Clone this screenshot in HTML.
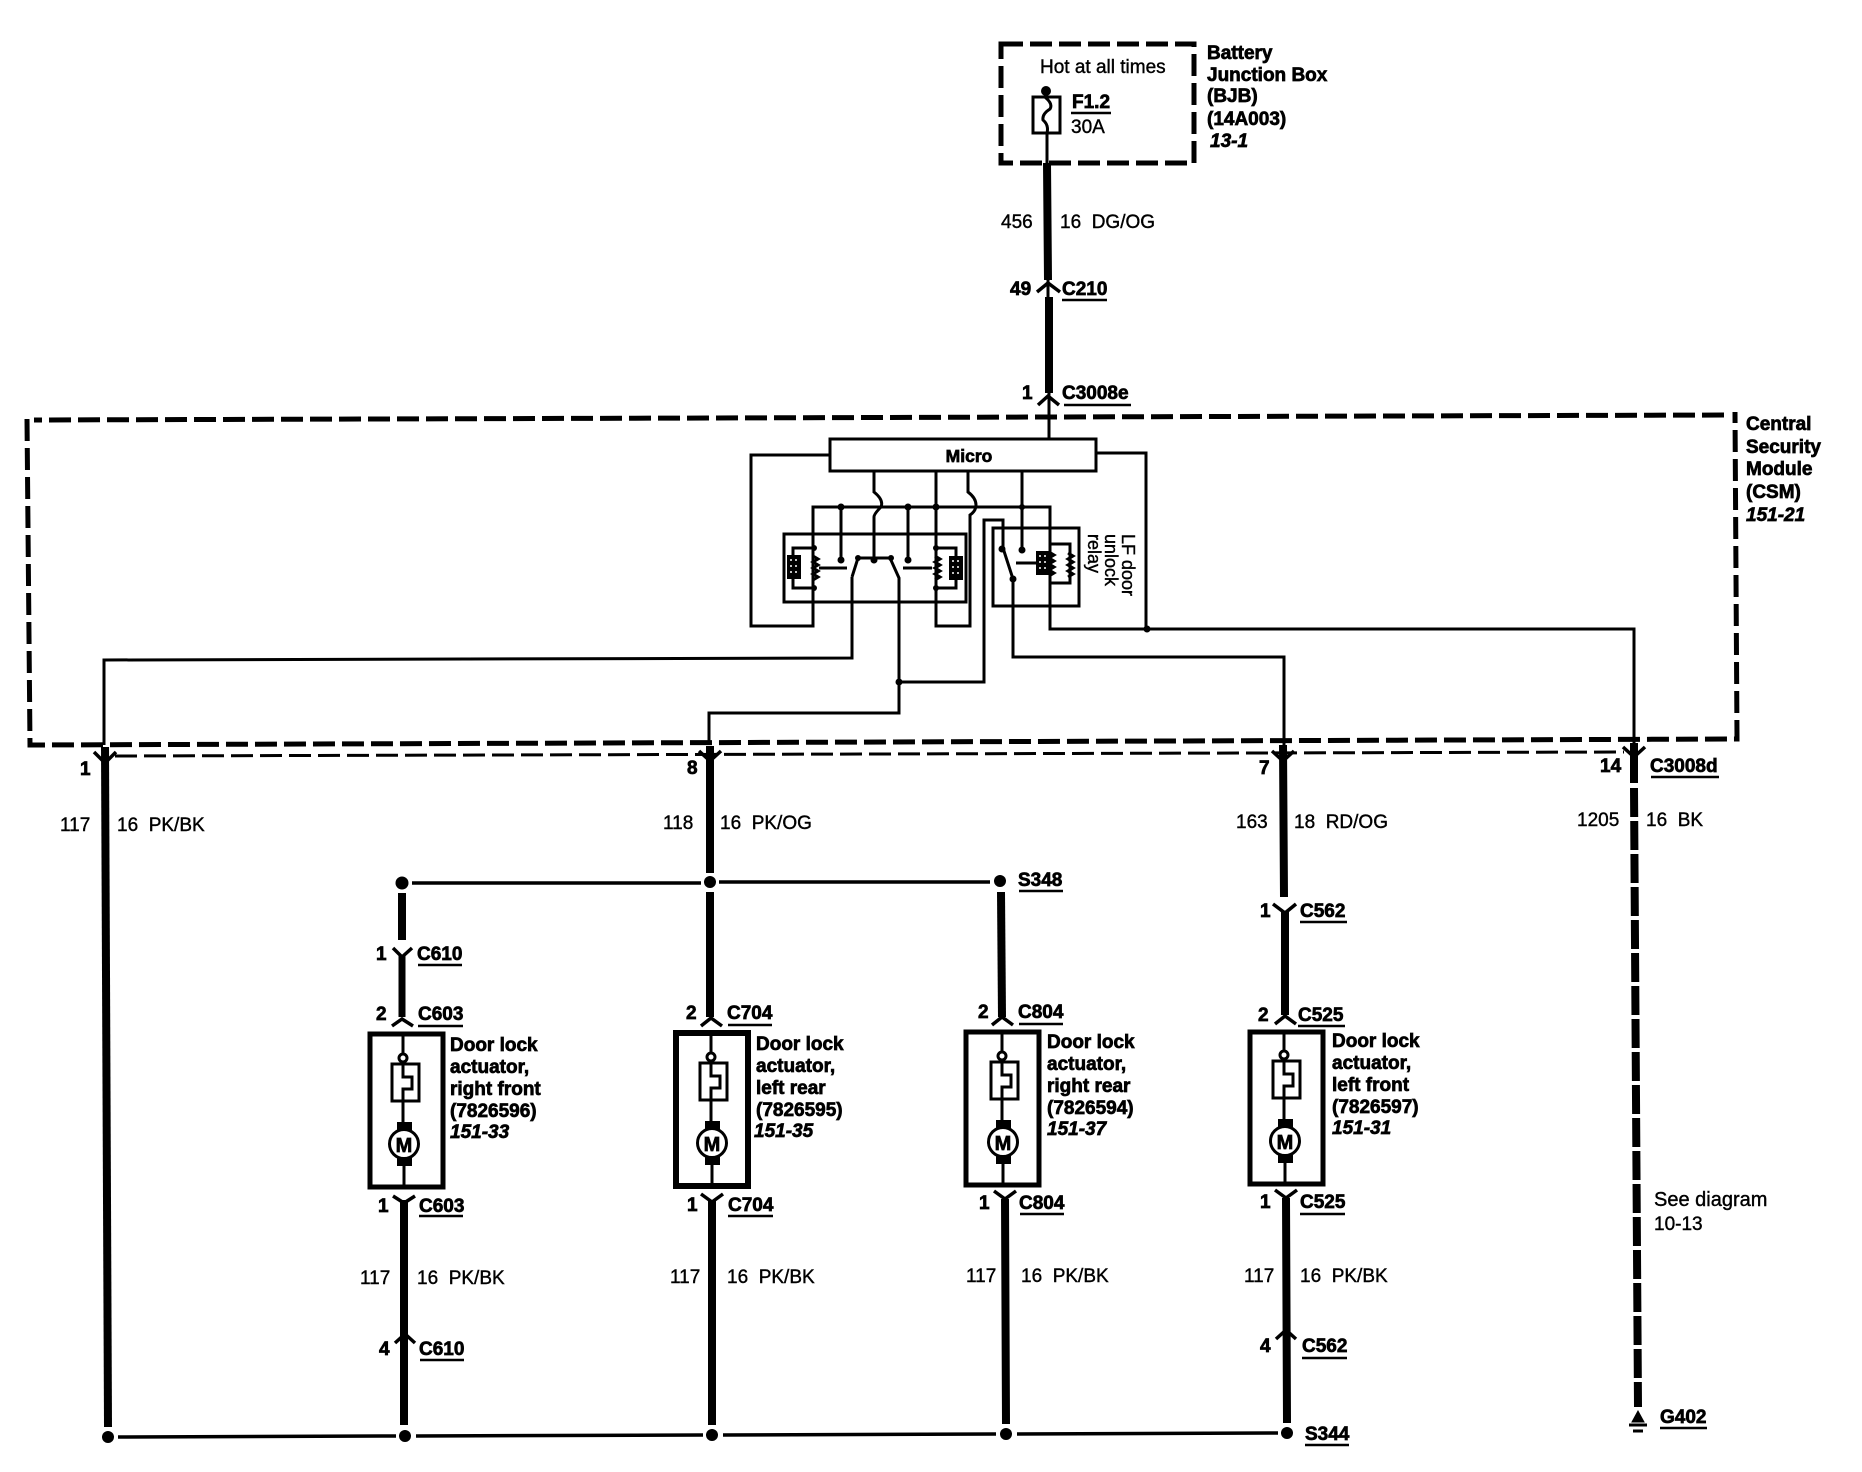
<!DOCTYPE html>
<html><head><meta charset="utf-8"><title>Door lock diagram</title>
<style>
html,body{margin:0;padding:0;background:#fff}
svg{display:block}
text{font-family:"Liberation Sans",sans-serif;font-size:19px;fill:#000;white-space:pre;stroke:#000;stroke-width:.4px}
.b{font-weight:bold;stroke-width:.7px}
.i{font-weight:bold;font-style:italic;stroke-width:.7px}
.t{stroke:#000;stroke-width:3;fill:none}
.k{stroke:#000;stroke-width:8;fill:none}
.c{stroke:#000;stroke-width:3.5;fill:none}
.u{stroke:#000;stroke-width:2.5}
</style></head><body>
<svg width="1862" height="1472" viewBox="0 0 1862 1472" xmlns="http://www.w3.org/2000/svg">
<defs>
<g id="act">
<circle cx="0" cy="-6" r="4" fill="#fff" stroke="#000" stroke-width="3"/>
<rect x="-11" y="0" width="27" height="37" fill="#fff" stroke="#000" stroke-width="3"/>
<path class="t" d="M0,-30V-9M0,0V13H9V25H0V58M1,102V125"/>
<rect x="-6" y="58" width="15" height="10" fill="#000"/>
<circle cx="1" cy="80" r="14.5" fill="#fff" stroke="#000" stroke-width="3"/>
<rect x="-6" y="94" width="15" height="8" fill="#000"/>
</g>
<g id="blob"><rect x="-7" y="-12" width="14" height="24" fill="#000"/><path d="M-4,-7h2m3,0h2M-4,-1h2m3,0h2M-4,5h2m3,0h2" stroke="#fff" stroke-width="1.5"/></g>
<path id="coil" d="M0,-11l5,3l-5,3l5,3l-5,3l5,3l-5,3l5,3l-5,3" fill="none" stroke="#000" stroke-width="3"/>
</defs>
<rect width="1862" height="1472" fill="#fff"/>

<!-- BJB -->
<rect x="1001" y="44" width="193" height="119" fill="none" stroke="#000" stroke-width="5" stroke-dasharray="22 7"/>
<text x="1040" y="73">Hot at all times</text>
<circle cx="1046" cy="91" r="5" fill="#000"/>
<rect x="1033" y="97" width="27" height="36" fill="#fff" stroke="#000" stroke-width="3"/>
<path class="t" d="M1046,91V98Q1053,104 1050,109Q1042,114 1043,120Q1049,125 1047,133V165"/>
<text class="b" x="1072" y="108">F1.2</text>
<line class="u" x1="1071" y1="113" x2="1111" y2="113"/>
<text x="1071" y="133">30A</text>
<text class="b" x="1207" y="59">Battery</text>
<text class="b" x="1207" y="81">Junction Box</text>
<text class="b" x="1207" y="102">(BJB)</text>
<text class="b" x="1207" y="125">(14A003)</text>
<text class="i" x="1210" y="147">13-1</text>

<path class="k" d="M1047,163L1048,280M1049,297L1049,393"/>
<path class="t" d="M1048,280V297M1049,393V438"/>
<path class="c" d="M1037,292L1048,283L1060,292M1038,405L1048,396L1059,405"/>
<text x="1001" y="228">456</text>
<text x="1060" y="228">16  DG/OG</text>
<text class="b" x="1010" y="295">49</text>
<text class="b" x="1062" y="295">C210</text>
<line class="u" x1="1062" y1="300" x2="1107" y2="300"/>
<text class="b" x="1022" y="399">1</text>
<text class="b" x="1062" y="399">C3008e</text>
<line class="u" x1="1064" y1="405" x2="1131" y2="405"/>

<!-- CSM -->
<path d="M1724,415L34,420" fill="none" stroke="#000" stroke-width="5" stroke-dasharray="22 7"/>
<path d="M27,419L30,745L1737,739L1735,412" fill="none" stroke="#000" stroke-width="5" stroke-dasharray="22 7"/>
<path d="M115,756L1624,752" fill="none" stroke="#000" stroke-width="3" stroke-dasharray="22 7"/>
<text class="b" x="1746" y="430">Central</text>
<text class="b" x="1746" y="453">Security</text>
<text class="b" x="1746" y="475">Module</text>
<text class="b" x="1746" y="498">(CSM)</text>
<text class="i" x="1746" y="521">151-21</text>

<!-- Micro and inner circuit -->
<rect x="830" y="439" width="266" height="32" fill="#fff" stroke="#000" stroke-width="3"/>
<text class="b" x="969" y="462" text-anchor="middle" style="font-size:17.5px">Micro</text>
<path class="t" d="M829,455H751V626H813V507H1050V629H1147M1096,453H1146V629"/>
<path class="t" d="M1147,629H1634V745"/>
<rect x="784" y="534" width="182" height="68" fill="none" stroke="#000" stroke-width="3"/>
<rect x="993" y="528" width="86" height="78" fill="none" stroke="#000" stroke-width="3"/>
<circle cx="1147" cy="629" r="3.5"/>
<!-- left relay -->
<path class="t" d="M814,548H793V588H814"/>
<use href="#blob" x="794" y="567"/>
<use href="#coil" x="813" y="567"/>
<path class="t" d="M841,507V560M908,507V560M819,568H847M903,568H932"/>
<circle cx="841" cy="507" r="3.5"/><circle cx="908" cy="507" r="3.5"/>
<circle cx="841" cy="560" r="3.5"/><circle cx="908" cy="560" r="3.5"/>
<!-- centre -->
<path class="t" d="M874,471V492Q884,500 881,507Q874,514 874,517V560"/>
<path class="t" d="M852,577L858,558H890L899,578V713H709V745"/>
<path class="t" d="M852,577V658L104,660V745"/>
<circle cx="858" cy="558" r="3"/><circle cx="874" cy="560" r="3.5"/><circle cx="891" cy="558" r="3"/><circle cx="899" cy="682" r="3.5"/>
<path class="t" d="M899,682H984V520H1003V548L1013,579V657H1284V745"/>
<circle cx="1002" cy="549" r="3.5"/><circle cx="1013" cy="579" r="3.5"/>
<!-- right part of double relay -->
<path class="t" d="M936,471V626H970V515Q976,511 976,505Q976,498 968,492V471"/>
<path class="t" d="M936,548H956V588H936"/>
<use href="#blob" x="956" y="568"/>
<use href="#coil" x="935" y="567"/>
<circle cx="936" cy="507" r="3.5"/><circle cx="936" cy="548" r="3"/><circle cx="936" cy="588" r="3"/>
<circle cx="814" cy="548" r="3"/><circle cx="814" cy="588" r="3"/>
<!-- LF relay -->
<path class="t" d="M1022,471V550M1016,563H1037"/>
<circle cx="1022" cy="550" r="3.5"/><circle cx="1022" cy="507" r="3"/>
<use href="#blob" x="1043" y="563"/>
<use href="#coil" x="1049" y="563"/>
<path class="t" d="M1050,544H1070V583H1050"/>
<use href="#coil" x="1068" y="564"/>
<text transform="translate(1122,534) rotate(90)" style="font-size:18px">LF door</text>
<text transform="translate(1105,534) rotate(90)" style="font-size:18px">unlock</text>
<text transform="translate(1088,534) rotate(90)" style="font-size:18px">relay</text>

<!-- main thick wires -->
<path class="k" d="M105,747L108,1427"/>
<path class="k" d="M710,746V873M710,892V1017"/>
<path class="k" d="M1283,745L1284,897M1285,912V1015"/>
<path class="k" d="M1001,892L1002,1017"/>
<path class="k" d="M402,893V940"/>
<path class="k" style="stroke-width:7" d="M402,955V1017"/>
<path class="k" d="M404,1200V1425M712,1200V1425M1005,1199L1006,1424M1286,1198L1287,1423"/>
<path d="M1634,743V783" class="k"/>
<path d="M1634,788L1638,1407" class="k" stroke-dasharray="29 4"/>
<!-- actuators -->
<rect x="370" y="1034" width="73" height="153" fill="#fff" stroke="#000" stroke-width="5"/>
<rect x="676" y="1033" width="72" height="153" fill="#fff" stroke="#000" stroke-width="6"/>
<rect x="966" y="1032" width="73" height="153" fill="#fff" stroke="#000" stroke-width="5"/>
<rect x="1250" y="1032" width="73" height="152" fill="#fff" stroke="#000" stroke-width="5"/>
<use href="#act" x="403" y="1064"/>
<use href="#act" x="711" y="1063"/>
<use href="#act" x="1002" y="1062"/>
<use href="#act" x="1284" y="1061"/>
<text class="b" x="404" y="1152" text-anchor="middle" style="font-size:20px">M</text>
<text class="b" x="712" y="1151" text-anchor="middle" style="font-size:20px">M</text>
<text class="b" x="1003" y="1150" text-anchor="middle" style="font-size:20px">M</text>
<text class="b" x="1285" y="1149" text-anchor="middle" style="font-size:20px">M</text>

<!-- chevrons -->
<path class="c" d="M94,752L105,763L116,752M699,751L710,761L721,751M1272,751L1283,761L1294,751M1623,747L1634,757L1645,747"/>
<path class="c" d="M393,948L402,957L412,948M392,1026L402,1019L413,1026M393,1196L404,1203L415,1196"/>
<path class="c" d="M701,1026L711,1018L722,1026M701,1194L712,1202L723,1194"/>
<path class="c" d="M992,1025L1002,1017L1013,1025M994,1191L1005,1199L1016,1191"/>
<path class="c" d="M1273,904L1285,913L1296,904M1275,1024L1285,1016L1296,1024M1275,1190L1286,1198L1297,1190"/>
<path class="c" d="M395,1343L405,1334L415,1343M1276,1339L1286,1330L1296,1339"/>

<!-- S348 bus -->
<path class="c" d="M412,883H701M719,882H990"/>
<circle cx="402" cy="883" r="6.5"/><circle cx="710" cy="882" r="6"/><circle cx="1000" cy="881" r="6"/>
<text class="b" x="1018" y="886">S348</text>
<line class="u" x1="1019" y1="891" x2="1063" y2="891"/>
<!-- S344 bus -->
<path class="c" d="M118,1437L396,1436M416,1436L703,1435M723,1435L996,1434M1017,1434L1278,1433"/>
<circle cx="108" cy="1437" r="6"/><circle cx="405" cy="1436" r="6"/><circle cx="712" cy="1435" r="6"/><circle cx="1006" cy="1434" r="6"/><circle cx="1287" cy="1433" r="6"/>
<text class="b" x="1305" y="1440">S344</text>
<line class="u" x1="1305" y1="1445" x2="1349" y2="1445"/>
<!-- Ground -->
<path d="M1638,1411L1632,1422H1644Z" fill="#000" stroke="#000"/>
<path d="M1629,1425H1647" stroke="#000" stroke-width="3"/>
<path d="M1633,1431H1643" stroke="#000" stroke-width="3"/>
<text class="b" x="1660" y="1423">G402</text>
<line class="u" x1="1660" y1="1428" x2="1707" y2="1428"/>

<!-- wire labels -->
<text class="b" x="80" y="775">1</text>
<text x="60" y="831">117</text><text x="117" y="831">16  PK/BK</text>
<text class="b" x="687" y="774">8</text>
<text x="663" y="829">118</text><text x="720" y="829">16  PK/OG</text>
<text class="b" x="1259" y="774">7</text>
<text x="1236" y="828">163</text><text x="1294" y="828">18  RD/OG</text>
<text class="b" x="1600" y="772">14</text>
<text class="b" x="1650" y="772">C3008d</text>
<line class="u" x1="1651" y1="777" x2="1719" y2="777"/>
<text x="1577" y="826">1205</text><text x="1646" y="826">16  BK</text>
<text x="1654" y="1206" style="font-size:20px">See diagram</text>
<text x="1654" y="1230">10-13</text>

<!-- connector labels col 1 -->
<text class="b" x="376" y="960">1</text><text class="b" x="417" y="960">C610</text><line class="u" x1="418" y1="965" x2="462" y2="965"/>
<text class="b" x="376" y="1020">2</text><text class="b" x="418" y="1020">C603</text><line class="u" x1="418" y1="1026" x2="463" y2="1026"/>
<text class="b" x="378" y="1212">1</text><text class="b" x="419" y="1212">C603</text><line class="u" x1="419" y1="1216" x2="463" y2="1216"/>
<text class="b" x="450" y="1051">Door lock</text><text class="b" x="450" y="1073">actuator,</text><text class="b" x="450" y="1095">right front</text><text class="b" x="450" y="1117">(7826596)</text><text class="i" x="450" y="1138">151-33</text>
<text x="360" y="1284">117</text><text x="417" y="1284">16  PK/BK</text>
<text class="b" x="379" y="1355">4</text><text class="b" x="419" y="1355">C610</text><line class="u" x1="420" y1="1360" x2="464" y2="1360"/>
<!-- col 2 -->
<text class="b" x="686" y="1019">2</text><text class="b" x="727" y="1019">C704</text><line class="u" x1="728" y1="1025" x2="772" y2="1025"/>
<text class="b" x="687" y="1211">1</text><text class="b" x="728" y="1211">C704</text><line class="u" x1="728" y1="1216" x2="773" y2="1216"/>
<text class="b" x="756" y="1050">Door lock</text><text class="b" x="756" y="1072">actuator,</text><text class="b" x="756" y="1094">left rear</text><text class="b" x="756" y="1116">(7826595)</text><text class="i" x="754" y="1137">151-35</text>
<text x="670" y="1283">117</text><text x="727" y="1283">16  PK/BK</text>
<!-- col 3 -->
<text class="b" x="978" y="1018">2</text><text class="b" x="1018" y="1018">C804</text><line class="u" x1="1019" y1="1024" x2="1063" y2="1024"/>
<text class="b" x="979" y="1209">1</text><text class="b" x="1019" y="1209">C804</text><line class="u" x1="1020" y1="1214" x2="1064" y2="1214"/>
<text class="b" x="1047" y="1048">Door lock</text><text class="b" x="1047" y="1070">actuator,</text><text class="b" x="1047" y="1092">right rear</text><text class="b" x="1047" y="1114">(7826594)</text><text class="i" x="1047" y="1135">151-37</text>
<text x="966" y="1282">117</text><text x="1021" y="1282">16  PK/BK</text>
<!-- col 4 -->
<text class="b" x="1260" y="917">1</text><text class="b" x="1300" y="917">C562</text><line class="u" x1="1300" y1="922" x2="1347" y2="922"/>
<text class="b" x="1258" y="1021">2</text><text class="b" x="1298" y="1021">C525</text><line class="u" x1="1298" y1="1026" x2="1345" y2="1026"/>
<text class="b" x="1260" y="1208">1</text><text class="b" x="1300" y="1208">C525</text><line class="u" x1="1300" y1="1214" x2="1345" y2="1214"/>
<text class="b" x="1332" y="1047">Door lock</text><text class="b" x="1332" y="1069">actuator,</text><text class="b" x="1332" y="1091">left front</text><text class="b" x="1332" y="1113">(7826597)</text><text class="i" x="1332" y="1134">151-31</text>
<text x="1244" y="1282">117</text><text x="1300" y="1282">16  PK/BK</text>
<text class="b" x="1260" y="1352">4</text><text class="b" x="1302" y="1352">C562</text><line class="u" x1="1302" y1="1358" x2="1347" y2="1358"/>
</svg>
</body></html>
